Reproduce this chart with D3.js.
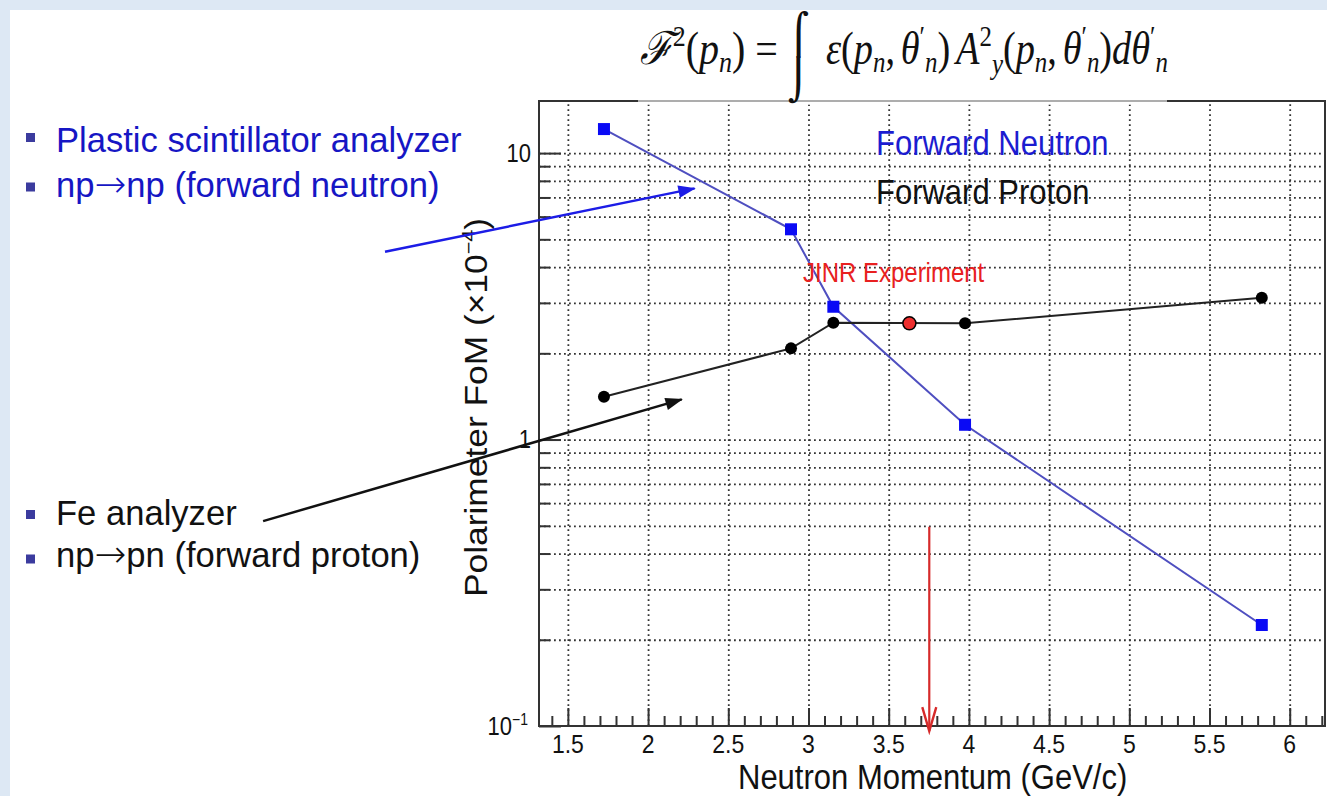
<!DOCTYPE html>
<html><head><meta charset="utf-8">
<script src="https://cdn.jsdelivr.net/npm/d3@7"></script>
<style>html,body{margin:0;padding:0;background:#fff;overflow:hidden;} svg{display:block;}</style>
</head><body>
<script>
// ---------- data ----------
const momentum = [1.725, 2.891, 3.155, 3.976, 5.826];
const fomForwardNeutron = [12.13, 5.42, 2.908, 1.126, 0.2252];
const fomForwardProton = [1.411, 2.081, 2.557, 2.545, 3.125];
const jinrMomentum = [3.629];
const jinrFom = [2.545];
const xTickValues = [1.5, 2, 2.5, 3, 3.5, 4, 4.5, 5, 5.5, 6];
const xTickLabels = ["1.5", "2", "2.5", "3", "3.5", "4", "4.5", "5", "5.5", "6"];
const xMinorTicks = [1.4, 1.6, 1.7, 1.8, 1.9, 2.1, 2.2, 2.3, 2.4, 2.6, 2.7, 2.8, 2.9, 3.1, 3.2, 3.3, 3.4,
  3.6, 3.7, 3.8, 3.9, 4.1, 4.2, 4.3, 4.4, 4.6, 4.7, 4.8, 4.9, 5.1, 5.2, 5.3, 5.4, 5.6, 5.7, 5.8, 5.9, 6.1, 6.2];
const yMajorTicks = [0.1, 1, 10];
const yMajorLabelBase = ["10", "1", "10"];
const yMajorLabelExp = ["\u22121", "", ""];
const yMinorTicks = [0.2, 0.3, 0.4, 0.5, 0.6, 0.7, 0.8, 0.9, 2, 3, 4, 5, 6, 7, 8, 9];
const seriesNames = ["Forward Neutron", "Forward Proton"];
const jinrLabel = "JINR Experiment";
const xTitle = "Neutron Momentum (GeV/c)";
const yTitleMain = "Polarimeter FoM (\u00d710";
const yTitleExp = "\u22124";
// annotation arrows (data coordinates)
const neutronArrowMomentum = [0.36, 2.29];
const neutronArrowFom = [4.525, 7.53];
const protonArrowMomentum = [-0.40, 2.21];
const protonArrowFom = [0.519, 1.381];
const jinrArrowMomentum = [3.753, 3.753];
const jinrArrowFom = [0.496, 0.096];
// slide bullet text: [before arrow, arrow, after arrow]
const bulletLines = [["Plastic scintillator analyzer", "", ""], ["np", "\u2192", "np (forward neutron)"],
  ["Fe analyzer", "", ""], ["np", "\u2192", "pn (forward proton)"]];
const bulletColors = ["#1616c4", "#1616c4", "#111", "#111"];

// ---------- layout ----------
const W = 1327, H = 796;
const P = {left: 539, right: 1325, top: 101, bottom: 726};
const SY = 1.14; // vertical stretch of plot texts

const svg = d3.select("body").append("svg").attr("width", W).attr("height", H);
svg.append("rect").attr("width", W).attr("height", H).attr("fill", "#dde8f4");
svg.append("rect").attr("x", 10).attr("y", 10).attr("width", W - 10).attr("height", H - 10).attr("fill", "#fff");

const defs = svg.append("defs");
function headMarker(id, color) {
  defs.append("marker").attr("id", id).attr("markerUnits", "userSpaceOnUse")
    .attr("markerWidth", 20).attr("markerHeight", 20).attr("viewBox", "-14 -7 16 14")
    .attr("refX", 0).attr("refY", 0).attr("orient", "auto")
    .append("path").attr("d", "M-13,-5 L1,0 L-13,5 Z").attr("fill", color);
}
headMarker("headBlue", "#1c1ce6");
headMarker("headBlack", "#111");
defs.append("marker").attr("id", "headRed").attr("markerUnits", "userSpaceOnUse")
  .attr("markerWidth", 32).attr("markerHeight", 32).attr("viewBox", "-28 -16 32 32")
  .attr("refX", 0).attr("refY", 0).attr("orient", "auto")
  .append("path").attr("d", "M-24,-7 L0,0 L-24,7").attr("fill", "none").attr("stroke", "#d62a2a").attr("stroke-width", 2.4);

const x = d3.scaleLinear().domain([1.32, 6.22]).range([P.left, P.right]);
const y = d3.scaleLog().domain([0.1, 15.2]).range([P.bottom, P.top]);
const plotW = P.right - P.left, plotH = P.bottom - P.top;

const sans = "'Liberation Sans', Arial, Helvetica, sans-serif";
function sText(g, px, py, str, size, color, anchor) {
  return g.append("text").attr("transform", `translate(${px},${py}) scale(1,${SY})`)
    .attr("font-family", sans).attr("font-size", size).attr("fill", color)
    .attr("text-anchor", anchor || "start").text(str);
}

// ---------- grid ----------
const grid = svg.append("g");
grid.append("g").attr("transform", `translate(0,${P.bottom})`)
  .call(d3.axisBottom(x).tickValues(xTickValues).tickSize(-plotH).tickFormat(""))
  .call(g => g.select(".domain").remove());
grid.append("g").attr("transform", `translate(${P.left},0)`)
  .call(d3.axisLeft(y).tickValues(yMajorTicks.slice(1).concat(yMinorTicks)).tickSize(-plotW).tickFormat(""))
  .call(g => g.select(".domain").remove());
grid.selectAll("line").attr("stroke", "#333").attr("stroke-width", 1.8).attr("stroke-dasharray", "1.8 3.2");

// ---------- axes ----------
const ax = svg.append("g");
ax.append("g").attr("transform", `translate(0,${P.bottom})`)
  .call(d3.axisBottom(x).tickValues(xTickValues).tickSize(-18).tickFormat(""))
  .call(g => g.select(".domain").remove());
ax.append("g").attr("transform", `translate(0,${P.bottom})`)
  .call(d3.axisBottom(x).tickValues(xMinorTicks).tickSize(-10).tickFormat(""))
  .call(g => g.select(".domain").remove());
ax.append("g").attr("transform", `translate(${P.left},0)`)
  .call(d3.axisLeft(y).tickValues(yMajorTicks).tickSize(-22).tickFormat(""))
  .call(g => g.select(".domain").remove());
ax.append("g").attr("transform", `translate(${P.left},0)`)
  .call(d3.axisLeft(y).tickValues(yMinorTicks).tickSize(-11).tickFormat(""))
  .call(g => g.select(".domain").remove());
ax.selectAll("line").attr("stroke", "#333").attr("stroke-width", 2);

// frame
svg.append("rect").attr("x", P.left).attr("y", P.top).attr("width", plotW).attr("height", plotH)
  .attr("fill", "none").attr("stroke", "#333").attr("stroke-width", 2);
// light box behind formula over the top frame line
svg.append("rect").attr("x", 638).attr("y", 96).attr("width", 529).attr("height", 9)
  .attr("fill", "#fff").attr("opacity", 0.6);

// tick labels
xTickValues.forEach((v, i) => sText(svg, x(v), 753, xTickLabels[i], 23, "#111", "middle"));
yMajorTicks.forEach((v, i) => {
  const t = svg.append("text").attr("transform", `translate(${i === 0 ? 528 : 531},${y(v) + 8.5}) scale(1,${SY})`)
    .attr("font-family", sans).attr("font-size", 22).attr("fill", "#111").attr("text-anchor", "end");
  t.append("tspan").text(yMajorLabelBase[i]);
  if (yMajorLabelExp[i]) t.append("tspan").attr("font-size", 14).attr("dy", -8).text(yMajorLabelExp[i]);
});

// axis titles
sText(svg, 738, 789, xTitle, 31, "#111", "start");
const yt = svg.append("text").attr("transform", `translate(487,597) rotate(-90) scale(${SY},1)`)
  .attr("font-family", sans).attr("font-size", 31).attr("fill", "#111");
yt.append("tspan").text(yTitleMain);
yt.append("tspan").attr("font-size", 19).attr("dy", -12).text(yTitleExp);
yt.append("tspan").attr("dy", 12).text(")");

// ---------- series ----------
const neutronPts = momentum.map((m, i) => [m, fomForwardNeutron[i]]);
const protonPts = momentum.map((m, i) => [m, fomForwardProton[i]]);
const line = d3.line().x(d => x(d[0])).y(d => y(d[1]));
svg.append("path").attr("d", line(neutronPts)).attr("fill", "none").attr("stroke", "#4f4fc0").attr("stroke-width", 2);
svg.append("path").attr("d", line(protonPts)).attr("fill", "none").attr("stroke", "#222").attr("stroke-width", 2);

svg.append("g").selectAll("rect").data(neutronPts).join("rect")
  .attr("x", d => x(d[0]) - 6).attr("y", d => y(d[1]) - 6).attr("width", 12).attr("height", 12)
  .attr("fill", "#0a0af5");
svg.append("g").selectAll("circle").data(protonPts).join("circle")
  .attr("cx", d => x(d[0])).attr("cy", d => y(d[1])).attr("r", 6).attr("fill", "#000");
svg.append("g").selectAll("circle").data(jinrMomentum.map((m, i) => [m, jinrFom[i]])).join("circle")
  .attr("cx", d => x(d[0])).attr("cy", d => y(d[1])).attr("r", 6.5)
  .attr("fill", "#ee2e2e").attr("stroke", "#000").attr("stroke-width", 1.5);

// legend / labels
sText(svg, 876, 155, seriesNames[0], 31, "#1c1cd0");
sText(svg, 876, 204, seriesNames[1], 31, "#111");
sText(svg, 803, 282, jinrLabel, 24, "#e82020");

// ---------- annotation arrows ----------
function arrow(ms, fs, color, w, marker) {
  svg.append("line").attr("x1", x(ms[0])).attr("y1", y(fs[0])).attr("x2", x(ms[1])).attr("y2", y(fs[1]))
    .attr("stroke", color).attr("stroke-width", w).attr("marker-end", `url(#${marker})`);
}
arrow(neutronArrowMomentum, neutronArrowFom, "#1c1ce6", 2.5, "headBlue");
arrow(protonArrowMomentum, protonArrowFom, "#111", 2.5, "headBlack");
arrow(jinrArrowMomentum, jinrArrowFom, "#d62a2a", 2.2, "headRed");

// ---------- slide bullets ----------
const bulletBase = [152, 197, 525, 567];
const bulletTop = [133, 182.5, 510, 554.5];
bulletLines.forEach((s, i) => {
  svg.append("rect").attr("x", 26).attr("y", bulletTop[i]).attr("width", 9).attr("height", 9).attr("fill", "#3b3b9e");
  const t = svg.append("text").attr("x", 56).attr("y", bulletBase[i]).attr("font-family", sans)
    .attr("font-size", 34.6).attr("fill", bulletColors[i]);
  t.append("tspan").text(s[0]);
  if (s[1]) {
    t.append("tspan").attr("font-family", "'DejaVu Sans', sans-serif").attr("font-weight", 200).attr("font-size", 38).text(s[1]);
    t.append("tspan").text(s[2]);
  }
});

// ---------- formula ----------
const serif = "'Liberation Serif','DejaVu Serif',serif";
function mathText(px, py, pieces, size, len) {
  const t = svg.append("text").attr("transform", `translate(${px},${py}) scale(1,${SY})`)
    .attr("font-family", serif).attr("font-size", size).attr("fill", "#111");
  if (len) t.attr("textLength", len).attr("lengthAdjust", "spacingAndGlyphs");
  let cur = 0;
  pieces.forEach(p => {
    const ts = t.append("tspan").text(p.t);
    const off = p.o || 0;
    ts.attr("dy", off - cur); cur = off;
    if (p.i) ts.attr("font-style", "italic");
    if (p.s) ts.attr("font-size", p.s);
    if (p.dx) ts.attr("dx", p.dx);
  });
  return t;
}
mathText(640, 64, [
  {t: "\u2131", i: 1}, {t: "2", s: 26, o: -16}, {t: "(", o: 0}, {t: "p", i: 1}, {t: "n", i: 1, s: 26, o: 7},
  {t: ")", o: 0}, {t: " = ", o: 0}
], 40);
// integral sign built from its upper and lower halves
svg.append("text").attr("x", 788).attr("y", 48).attr("font-family", "'DejaVu Sans', sans-serif")
  .attr("font-size", 40).attr("fill", "#111").text("\u2320");
svg.append("text").attr("x", 788).attr("y", 94).attr("font-family", "'DejaVu Sans', sans-serif")
  .attr("font-size", 40).attr("fill", "#111").text("\u2321");
mathText(826, 64, [
  {t: "\u03b5", i: 1}, {t: "("}, {t: "p", i: 1}, {t: "n", i: 1, s: 26, o: 7}, {t: ",", o: 0},
  {t: "\u03b8", i: 1, dx: 6}, {t: "\u2032", s: 26, o: -16}, {t: "n", i: 1, s: 26, o: 7}, {t: ")", o: 0},
  {t: "A", i: 1, dx: 6}, {t: "2", s: 26, o: -16}, {t: "y", i: 1, s: 26, o: 9}, {t: "(", o: 0},
  {t: "p", i: 1}, {t: "n", i: 1, s: 26, o: 7}, {t: ",", o: 0},
  {t: "\u03b8", i: 1, dx: 6}, {t: "\u2032", s: 26, o: -16}, {t: "n", i: 1, s: 26, o: 7}, {t: ")", o: 0},
  {t: "d", i: 1}, {t: "\u03b8", i: 1}, {t: "\u2032", s: 26, o: -16}, {t: "n", i: 1, s: 26, o: 7}
], 40, 342);
</script>
</body></html>
